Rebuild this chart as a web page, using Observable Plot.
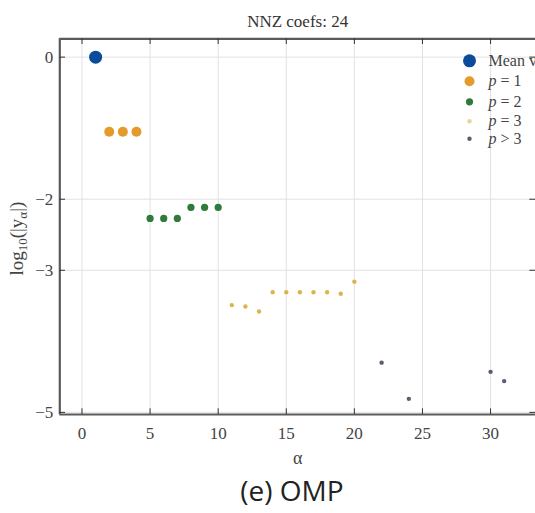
<!DOCTYPE html>
<html>
<head>
<meta charset="utf-8">
<script src="https://cdn.jsdelivr.net/npm/d3@7"></script>
<script src="https://cdn.jsdelivr.net/npm/@observablehq/plot@0.6"></script>
<style>
html, body { margin: 0; padding: 0; background: #fff; overflow: hidden; }
#wrap { position: relative; width: 535px; height: 513px; overflow: hidden; }
#caption { position: absolute; left: 0; top: 471px; width: 535px; padding-left: 49px; box-sizing: border-box;
  text-align: center; font-family: "Open Sans", sans-serif; font-size: 28px; line-height: 38px; color: #222; }
</style>
</head>
<body>
<div id="wrap"><div id="chart"></div><div id="caption">(e) OMP</div></div>
<script>
// ---- data ----
const xTicks = [0, 5, 10, 15, 20, 25, 30];
const yTicks = [0, -2, -3, -5];
const yTickLabels = ["0", "\u22122", "\u22123", "\u22125"];

const meanAlpha = [1];
const meanVal = [0];
const p1Alpha = [2, 3, 4];
const p1Val = [-1.05, -1.05, -1.05];
const p2Alpha = [5, 6, 7, 8, 9, 10];
const p2Val = [-2.27, -2.27, -2.27, -2.115, -2.115, -2.115];
const p3Alpha = [11, 12, 13, 14, 15, 16, 17, 18, 19, 20];
const p3Val = [-3.49, -3.51, -3.58, -3.31, -3.31, -3.31, -3.31, -3.31, -3.33, -3.16];
const p4Alpha = [22, 24, 30, 31];
const p4Val = [-4.30, -4.81, -4.43, -4.56];

const legendLabels = ["Mean value", "p = 1", "p = 2", "p = 3", "p > 3"];
const titleText = "NNZ coefs: 24";
const xLabel = "\u03b1";
const yLabel = "log10(|y\u03b1|)";

// ---- styles ----
const colors = ["#0b4b9b", "#e49b2b", "#2e7b3b", "#d8b64c", "#5f5a70"];
const radii = [6.5, 5, 3.6, 2.2, 2.2];
const serif = "'Liberation Serif', 'DejaVu Serif', serif";

const xDomain = [-1.63, 33.3];
const yDomain = [-5.03, 0.258];

const groups = [
  [meanAlpha, meanVal], [p1Alpha, p1Val], [p2Alpha, p2Val], [p3Alpha, p3Val], [p4Alpha, p4Val]
].map(([a, v]) => a.map((x, i) => ({x, y: v[i]})));

const legendDy = [22, 42.5, 63, 82.5, 100];

const marks = [
  Plot.ruleX(xTicks, {x: d => d, stroke: "#e2e2e2", strokeWidth: 1}),
  Plot.ruleY(yTicks, {y: d => d, stroke: "#e2e2e2", strokeWidth: 1}),
  // spines
  Plot.ruleX([xDomain[0]], {x: d => d, stroke: "#5a5a5a", strokeWidth: 2.2}),
  Plot.ruleY([yDomain[1], yDomain[0]], {y: d => d, stroke: "#5a5a5a", strokeWidth: 2.2}),
  // inward ticks
  Plot.tickX(xTicks, {x: d => d, insetTop: 370, stroke: "#333", strokeWidth: 1}),
  Plot.tickX(xTicks, {x: d => d, insetBottom: 370, stroke: "#333", strokeWidth: 1}),
  Plot.tickY(yTicks, {y: d => d, insetRight: 470, stroke: "#333", strokeWidth: 1}),
  Plot.tickY(yTicks, {y: d => d, insetLeft: 470, stroke: "#333", strokeWidth: 1}),
  // tick labels
  Plot.text(xTicks, {x: d => d, text: d => String(d), frameAnchor: "bottom", dy: 19, lineAnchor: "middle",
    fontSize: 17, fontFamily: serif, fill: "#444"}),
  Plot.text(yTicks, {y: d => d, text: (d, i) => yTickLabels[i], frameAnchor: "left", dx: -6.5, textAnchor: "end",
    lineAnchor: "middle", fontSize: 17, fontFamily: serif, fill: "#444"}),
  // data
  ...groups.map((g, k) => Plot.dot(g, {x: "x", y: "y", r: radii[k], fill: colors[k], stroke: "none"})),
  // legend
  ...legendLabels.map((lab, k) => Plot.dot([lab], {frameAnchor: "top-right", dx: -66, dy: legendDy[k],
    r: radii[k], fill: colors[k], fillOpacity: k === 3 ? 0.6 : 1})),
  ...legendLabels.map((lab, k) => Plot.text([lab], {text: d => d, frameAnchor: "top-right", dx: -47, dy: legendDy[k],
    textAnchor: "start", lineAnchor: "middle", fontSize: 16, fontFamily: serif, fill: "#444", className: "legtext"})),
  // title and labels
  Plot.text([titleText], {text: d => d, frameAnchor: "top", dy: -17, lineAnchor: "middle", fontSize: 17,
    fontFamily: serif, fill: "#333"}),
  Plot.text([xLabel], {text: d => d, frameAnchor: "bottom", dy: 44, lineAnchor: "middle", fontSize: 18,
    fontFamily: serif, fill: "#444"}),
  Plot.text([yLabel], {text: d => d, frameAnchor: "left", dx: -43, dy: 0, rotate: -90, lineAnchor: "middle",
    textAnchor: "start", fontSize: 19, fontFamily: serif, fill: "#444", className: "ylab"})
];

const svg = Plot.plot({
  width: 535,
  height: 470,
  marginTop: 38.3,
  marginBottom: 56,
  marginLeft: 59.3,
  marginRight: 0,
  x: {domain: xDomain, axis: null},
  y: {domain: yDomain, axis: null},
  style: {background: "#fff", overflow: "hidden"},
  marks
});
document.getElementById("chart").appendChild(svg);

// rich text: italic p in legend, subscripts in y label
d3.select(svg).selectAll("g.legtext text").each(function () {
  const s = this.textContent;
  if (s.startsWith("p ")) {
    const t = d3.select(this);
    t.text(null);
    t.append("tspan").attr("font-style", "italic").text("p");
    t.append("tspan").text(s.slice(1));
  }
});
d3.select(svg).selectAll("g.ylab text").each(function () {
  const t = d3.select(this);
  t.text(null);
  t.attr("text-anchor", "start");
  t.append("tspan").text("log");
  t.append("tspan").attr("dy", 4).attr("font-size", 13).text("10");
  t.append("tspan").attr("dy", -4).text("(|y");
  t.append("tspan").attr("dy", 4).attr("font-size", 13).text("\u03b1");
  t.append("tspan").attr("dy", -4).text("|)");
  const L = this.getComputedTextLength();
  t.attr("x", -L / 2 - 12);
});
</script>
</body>
</html>
